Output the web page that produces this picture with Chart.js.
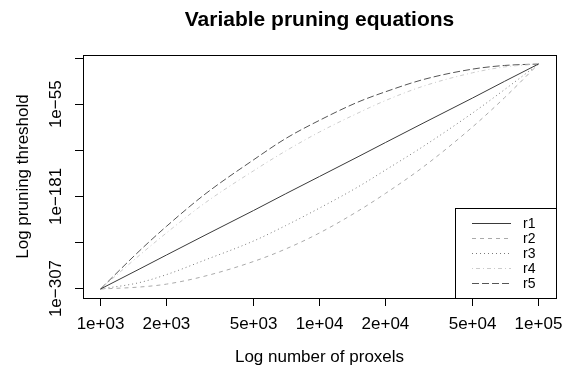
<!DOCTYPE html>
<html>
<head>
<meta charset="utf-8">
<script src="https://cdn.jsdelivr.net/npm/chart.js@4/dist/chart.umd.min.js"></script>
<style>
  html, body { margin: 0; padding: 0; background: #fff; }
  #wrap { width: 571px; height: 369px; }
</style>
</head>
<body>
<div id="wrap"><canvas id="c" width="571" height="369"></canvas></div>
<script>
// x: number of proxels
const xValues = [1000, 1500, 2000, 3000, 5000, 7000, 10000, 15000, 20000, 30000, 50000, 70000, 100000];
// y: log10 of the pruning threshold
const r1 = [-307.65, -280.6, -261.2, -234.1, -200.3, -177.5, -153.8, -126.8, -107.4, -80.3, -46.5, -23.7, 0];
const r2 = [-307.65, -305, -301, -290, -270, -253, -231, -201, -177, -140, -86, -46, 0];
const r3 = [-307.65, -299, -288, -268, -242, -221, -197, -168, -145, -112, -67, -35, 0];
const r4 = [-307.65, -262, -231, -190, -146, -119, -93, -67, -50, -30, -12, -4, 0];
const r5 = [-307.65, -256, -222, -178, -131, -102, -77, -52, -38, -21, -7, -2, 0];
const seriesNames = ['r1', 'r2', 'r3', 'r4', 'r5'];

const xTickValues = [1000, 2000, 5000, 10000, 20000, 50000, 100000];
const xTickLabels = ['1e+03', '2e+03', '5e+03', '1e+04', '2e+04', '5e+04', '1e+05'];
const yTickExponents = [-307, -244, -181, -118, -55, 8];
const yTickLabels = ['1e\u2212307', '', '1e\u2212181', '', '1e\u221255', ''];

const FONT = "'Liberation Sans', Arial, Helvetica, sans-serif";
const colors = ['#3a3a3a', '#aaaaaa', '#7a7a7a', '#cccccc', '#555555'];
const dashes = [[], [4, 4], [1, 3], [1, 3, 4, 3], [7, 3]];

const allSeries = [r1, r2, r3, r4, r5];
const allY = [].concat(...allSeries);
const yLo = Math.min(...allY), yHi = Math.max(...allY);
const yMin = yLo - 0.04 * (yHi - yLo), yMax = yHi + 0.04 * (yHi - yLo);
const lxLo = Math.log10(Math.min(...xValues)), lxHi = Math.log10(Math.max(...xValues));
const xMin = Math.pow(10, lxLo - 0.04 * (lxHi - lxLo));
const xMax = Math.pow(10, lxHi + 0.04 * (lxHi - lxLo));

const datasets = allSeries.map((s, i) => ({
  label: seriesNames[i],
  data: xValues.map((x, j) => ({ x: x, y: s[j] })),
  borderColor: colors[i],
  borderDash: dashes[i],
  borderWidth: 1,
  pointRadius: 0,
  fill: false,
  cubicInterpolationMode: 'monotone'
}));

const boxAndLegend = {
  id: 'boxAndLegend',
  afterDatasetsDraw(chart) {
    const ctx = chart.ctx;
    const a = chart.chartArea;
    ctx.save();
    // legend (bottom right, inside plot box)
    const w = 101, h = 90;
    const L = Math.round(a.right) - w, T = Math.round(a.bottom) - h;
    ctx.fillStyle = '#fff';
    ctx.fillRect(L, T, w, h);
    ctx.strokeStyle = '#000';
    ctx.lineWidth = 1;
    ctx.setLineDash([]);
    ctx.strokeRect(L + 0.5, T + 0.5, w, h);
    ctx.font = '14px ' + FONT;
    ctx.textBaseline = 'middle';
    ctx.textAlign = 'left';
    chart.data.datasets.forEach((ds, i) => {
      const y = Math.round(T + 15 + i * 15) + 0.5;
      ctx.beginPath();
      ctx.strokeStyle = ds.borderColor;
      ctx.setLineDash(ds.borderDash || []);
      ctx.moveTo(L + 17, y);
      ctx.lineTo(L + 56, y);
      ctx.stroke();
      ctx.setLineDash([]);
      ctx.fillStyle = '#000';
      ctx.fillText(ds.label, L + 68, y + 0.5);
    });
    // plot box
    ctx.strokeStyle = '#000';
    ctx.strokeRect(Math.round(a.left) + 0.5, Math.round(a.top) + 0.5,
                   Math.round(a.right) - Math.round(a.left), Math.round(a.bottom) - Math.round(a.top));
    ctx.restore();
  }
};

new Chart(document.getElementById('c'), {
  type: 'line',
  data: { datasets: datasets },
  plugins: [boxAndLegend],
  options: {
    responsive: false,
    animation: false,
    devicePixelRatio: 1,
    layout: { padding: { left: 0, right: 15, top: 0, bottom: 0 } },
    plugins: {
      legend: { display: false },
      tooltip: { enabled: false },
      title: {
        display: true,
        fullSize: false,
        text: 'Variable pruning equations',
        color: '#000',
        font: { family: FONT, size: 21, weight: 'bold' },
        padding: { top: 8, bottom: 21.8 }
      }
    },
    scales: {
      x: {
        type: 'logarithmic',
        min: xMin,
        max: xMax,
        afterBuildTicks: (s) => { s.ticks = xTickValues.map(v => ({ value: v })); },
        afterFit: (s) => { s.height = 71; },
        ticks: {
          autoSkip: false, minRotation: 0, maxRotation: 0, padding: 8,
          color: '#000', font: { family: FONT, size: 17 },
          callback: (v, i) => xTickLabels[i]
        },
        grid: { display: true, drawOnChartArea: false, drawTicks: true, tickLength: 8, color: '#000', lineWidth: 1 },
        border: { display: false },
        title: {
          display: true, text: 'Log number of proxels', color: '#000',
          font: { family: FONT, size: 17 }, padding: { top: 0, bottom: 1 }
        }
      },
      y: {
        type: 'linear',
        min: yMin,
        max: yMax,
        afterBuildTicks: (s) => { s.ticks = yTickExponents.map(v => ({ value: v })); },
        afterFit: (s) => { s.width = 83; },
        ticks: {
          autoSkip: false, minRotation: 90, maxRotation: 90, crossAlign: 'center', padding: -10,
          color: '#000', font: { family: FONT, size: 17 },
          callback: (v, i) => yTickLabels[i]
        },
        grid: { display: true, drawOnChartArea: false, drawTicks: true, tickLength: 8, color: '#000', lineWidth: 1 },
        border: { display: false },
        title: {
          display: true, text: 'Log pruning threshold', color: '#000',
          font: { family: FONT, size: 17 }, padding: { top: 13, bottom: 0 }
        }
      }
    }
  }
});
</script>
</body>
</html>
